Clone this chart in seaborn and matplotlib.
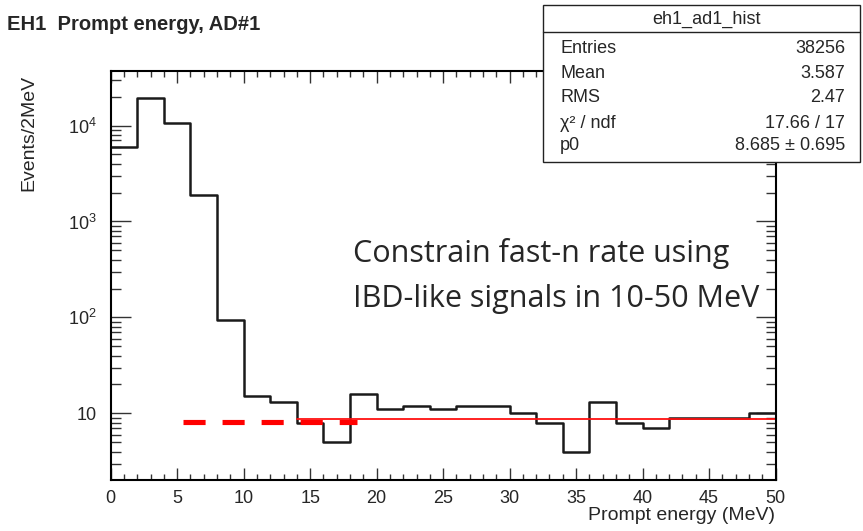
import numpy as np
import pandas as pd
import matplotlib
matplotlib.use("Agg")
import matplotlib.pyplot as plt
import seaborn as sns
from matplotlib.ticker import FixedLocator, LogLocator, FuncFormatter, MultipleLocator, NullFormatter
from matplotlib.patches import Rectangle

# ---------------- data ----------------
bin_edges = [0, 2, 4, 6, 8, 10, 12, 14, 16, 18, 20, 22, 24, 26, 28, 30,
             32, 34, 36, 38, 40, 42, 44, 46, 48, 50]
bin_centers = [1, 3, 5, 7, 9, 11, 13, 15, 17, 19, 21, 23, 25, 27, 29, 31,
               33, 35, 37, 39, 41, 43, 45, 47, 49]
counts = [6000, 19500, 10550, 1900, 95, 15, 13, 8, 5, 16, 11, 12, 11, 12, 12,
          10, 8, 4, 13, 8, 7, 9, 9, 9, 10]

fit_p0 = 8.685
fit_range = [14, 50]
dashed_level = 8.2
dashed_range = [5.45, 18.5]

x_ticks = [0, 5, 10, 15, 20, 25, 30, 35, 40, 45, 50]
y_ticks = [10, 100, 1000, 10000]

stats_title = "eh1_ad1_hist"
stats_names = ["Entries", "Mean", "RMS", "χ² / ndf", "p0"]
stats_values = ["38256", "3.587", "2.47", "17.66 / 17", "8.685 ± 0.695"]

title = "EH1  Prompt energy, AD#1"
x_label = "Prompt energy (MeV)"
y_label = "Events/2MeV"
note_lines = ["Constrain fast-n rate using", "IBD-like signals in 10-50 MeV"]

# ---------------- style ----------------
sns.set_style("white")
plt.rcParams['font.family'] = ['Liberation Sans', 'DejaVu Sans']
plt.rcParams['mathtext.fontset'] = 'custom'
plt.rcParams['mathtext.rm'] = 'Liberation Sans'
plt.rcParams['mathtext.it'] = 'Liberation Sans:italic'

W, H = 863, 531
fig = plt.figure(figsize=(W / 100, H / 100), dpi=100)
fig.patch.set_facecolor('white')

def fx(px):
    return px / W

def fy(py):
    return 1 - py / H

ax_l, ax_r, ax_t, ax_b = 110.7, 775.5, 71.0, 480.0
ax = fig.add_axes([fx(ax_l), fy(ax_b), fx(ax_r - ax_l), (ax_b - ax_t) / H])

df = pd.DataFrame({"energy": bin_centers, "events": counts})
sns.histplot(data=df, x="energy", weights="events", bins=bin_edges,
             element="step", fill=False, color="#1a1a1a", linewidth=1.8, ax=ax)

ax.set_yscale('log')
ax.set_xlim(0, 50)
ax.set_ylim(2.02, 37000)

# fit line and dashed extrapolation
sns.lineplot(x=fit_range, y=[fit_p0, fit_p0], color="#ff1010", linewidth=1.3, ax=ax)
sns.lineplot(x=dashed_range, y=[dashed_level, dashed_level], color="#ff0000",
             linewidth=3.7, ax=ax, dashes=False)
ax.lines[-1].set_dashes((4.3, 3.3))
ax.lines[-1].set_dash_capstyle('butt')

ax.set_xlabel("")
ax.set_ylabel("")

# ticks
ax.xaxis.set_major_locator(FixedLocator(x_ticks))
ax.xaxis.set_minor_locator(MultipleLocator(1))
ax.yaxis.set_major_locator(FixedLocator(y_ticks))
ax.yaxis.set_minor_locator(LogLocator(base=10, subs=range(2, 10), numticks=30))
ax.yaxis.set_minor_formatter(NullFormatter())

def yfmt(v, pos):
    e = int(round(np.log10(v)))
    if e == 1:
        return "10"
    return r"$\mathregular{10^{%d}}$" % e

ax.yaxis.set_major_formatter(FuncFormatter(yfmt))

ax.tick_params(axis='x', which='major', direction='in', length=8.6, width=1.0,
               color='#333333', top=True, bottom=True, labelsize=13, pad=7)
ax.tick_params(axis='x', which='minor', direction='in', length=4.3, width=1.0,
               color='#333333', top=True, bottom=True)
ax.tick_params(axis='y', which='major', direction='in', length=14.4, width=1.0,
               color='#333333', left=True, right=True, labelsize=13, pad=10)
ax.tick_params(axis='y', which='minor', direction='in', length=7.2, width=1.0,
               color='#333333', left=True, right=True)

for s in ax.spines.values():
    s.set_visible(True)
    s.set_color('black')
    s.set_linewidth(1.5)

# labels
fig.text(fx(7), fy(15), title, fontsize=14.5, fontweight='bold', ha='left', va='top')
fig.text(fx(29), fy(75), y_label, fontsize=14, rotation=90, ha='center', va='top')
fig.text(fx(775), fy(507), x_label, fontsize=14, ha='right', va='top')

# annotation text
fig.text(fx(353), fy(262), note_lines[0], fontsize=22, family=['Open Sans', 'DejaVu Sans'],
         ha='left', va='baseline')
fig.text(fx(353), fy(307), note_lines[1], fontsize=22, family=['Open Sans', 'DejaVu Sans'],
         ha='left', va='baseline')

# stats box
bx_l, bx_r, bx_t, bx_b = 543, 860, 5, 162
hdr = 32
box = Rectangle((fx(bx_l), fy(bx_b)), fx(bx_r - bx_l), (bx_b - bx_t) / H,
                transform=fig.transFigure, facecolor='white', edgecolor='#222222',
                linewidth=1.0, zorder=10)
fig.add_artist(box)
fig.add_artist(plt.Line2D([fx(bx_l), fx(bx_r)], [fy(hdr), fy(hdr)],
                          transform=fig.transFigure, color='#222222', linewidth=1.0, zorder=11))
fig.text(fx((bx_l + bx_r) / 2 + 5), fy(19), stats_title, fontsize=13, ha='center', va='center', zorder=12)
row_y = [48, 73, 97, 123, 145]
for name, val, yy in zip(stats_names, stats_values, row_y):
    fig.text(fx(560), fy(yy), name, fontsize=13, ha='left', va='center', zorder=12)
    fig.text(fx(845), fy(yy), val, fontsize=13, ha='right', va='center', zorder=12)

fig.savefig("out.png", dpi=100)
